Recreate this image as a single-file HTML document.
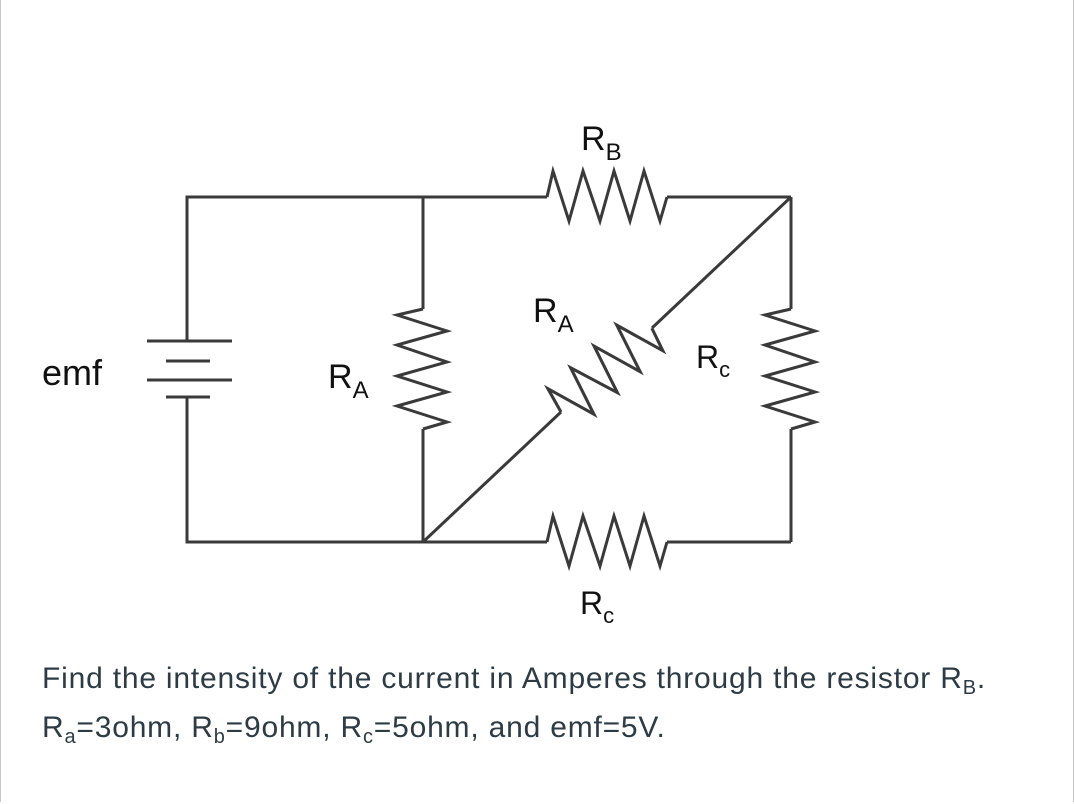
<!DOCTYPE html>
<html><head><meta charset="utf-8"><style>
html,body{margin:0;padding:0;background:#fff;}
body{width:1074px;height:804px;position:relative;overflow:hidden;}
.frame{position:absolute;left:0;top:0;width:1072px;height:802px;border-left:1px solid #c8c8c8;border-right:1px solid #c8c8c8;}
svg{position:absolute;left:0;top:0;}
.q{position:absolute;left:42px;font-family:"Liberation Sans",sans-serif;font-size:30px;color:#2d3b45;letter-spacing:0.8px;white-space:nowrap;}
sub{font-size:20px;vertical-align:-6px;line-height:0;}
</style></head><body>
<div class="frame"></div>
<svg width="1074" height="804" viewBox="0 0 1074 804">
<defs>
<polyline id="zz" points="0,0 6,-26 22,24 36,-26 53,24 67,-26 83,24 97,-26 113,24 120,0" fill="none" stroke="#3a3a3a" stroke-width="3" stroke-linejoin="miter"/>
</defs>
<g stroke="#3a3a3a" stroke-width="3" fill="none">
<polyline points="187,341 187,197 547,197"/>
<line x1="667" y1="197" x2="791" y2="197"/>
<polyline points="187,397 187,542 547,542"/>
<line x1="667" y1="542" x2="791" y2="542"/>
<line x1="423" y1="197" x2="423" y2="309"/>
<line x1="423" y1="429" x2="423" y2="542"/>
<line x1="791" y1="197" x2="791" y2="309"/>
<line x1="791" y1="429" x2="791" y2="542"/>
<line x1="423" y1="542" x2="561" y2="412"/>
<line x1="652" y1="328" x2="791" y2="197"/>
<line x1="147" y1="341" x2="232" y2="341"/>
<line x1="166" y1="361" x2="210" y2="361"/>
<line x1="147" y1="380" x2="232" y2="380"/>
<line x1="166" y1="397" x2="210" y2="397"/>
</g>
<use href="#zz" transform="translate(547,197)"/>
<use href="#zz" transform="translate(547,542)"/>
<use href="#zz" transform="translate(423,309) rotate(90) scale(1,-1)"/>
<use href="#zz" transform="translate(791,309) rotate(90) scale(1,-1)"/>
<use href="#zz" transform="translate(561,412) rotate(-42.7) scale(1.03,1)"/>
<g font-family="Liberation Sans,sans-serif" fill="#111">
<text x="42" y="385" font-size="36">emf</text>
<text x="581" y="150" font-size="34">R<tspan font-size="24" dy="10">B</tspan></text>
<text x="533" y="322" font-size="34">R<tspan font-size="24" dy="10">A</tspan></text>
<text x="328" y="388" font-size="34">R<tspan font-size="24" dy="10">A</tspan></text>
<text x="696" y="368" font-size="32">R<tspan font-size="22" dy="9">c</tspan></text>
<text x="580" y="614" font-size="32">R<tspan font-size="22" dy="9">c</tspan></text>
</g>
</svg>
<div class="q" style="top:662px;">Find the intensity of the current in Amperes through the resistor R<sub>B</sub>.</div>
<div class="q" style="top:711px;">R<sub>a</sub>=3ohm, R<sub>b</sub>=9ohm, R<sub>c</sub>=5ohm, and emf=5V.</div>
</body></html>
